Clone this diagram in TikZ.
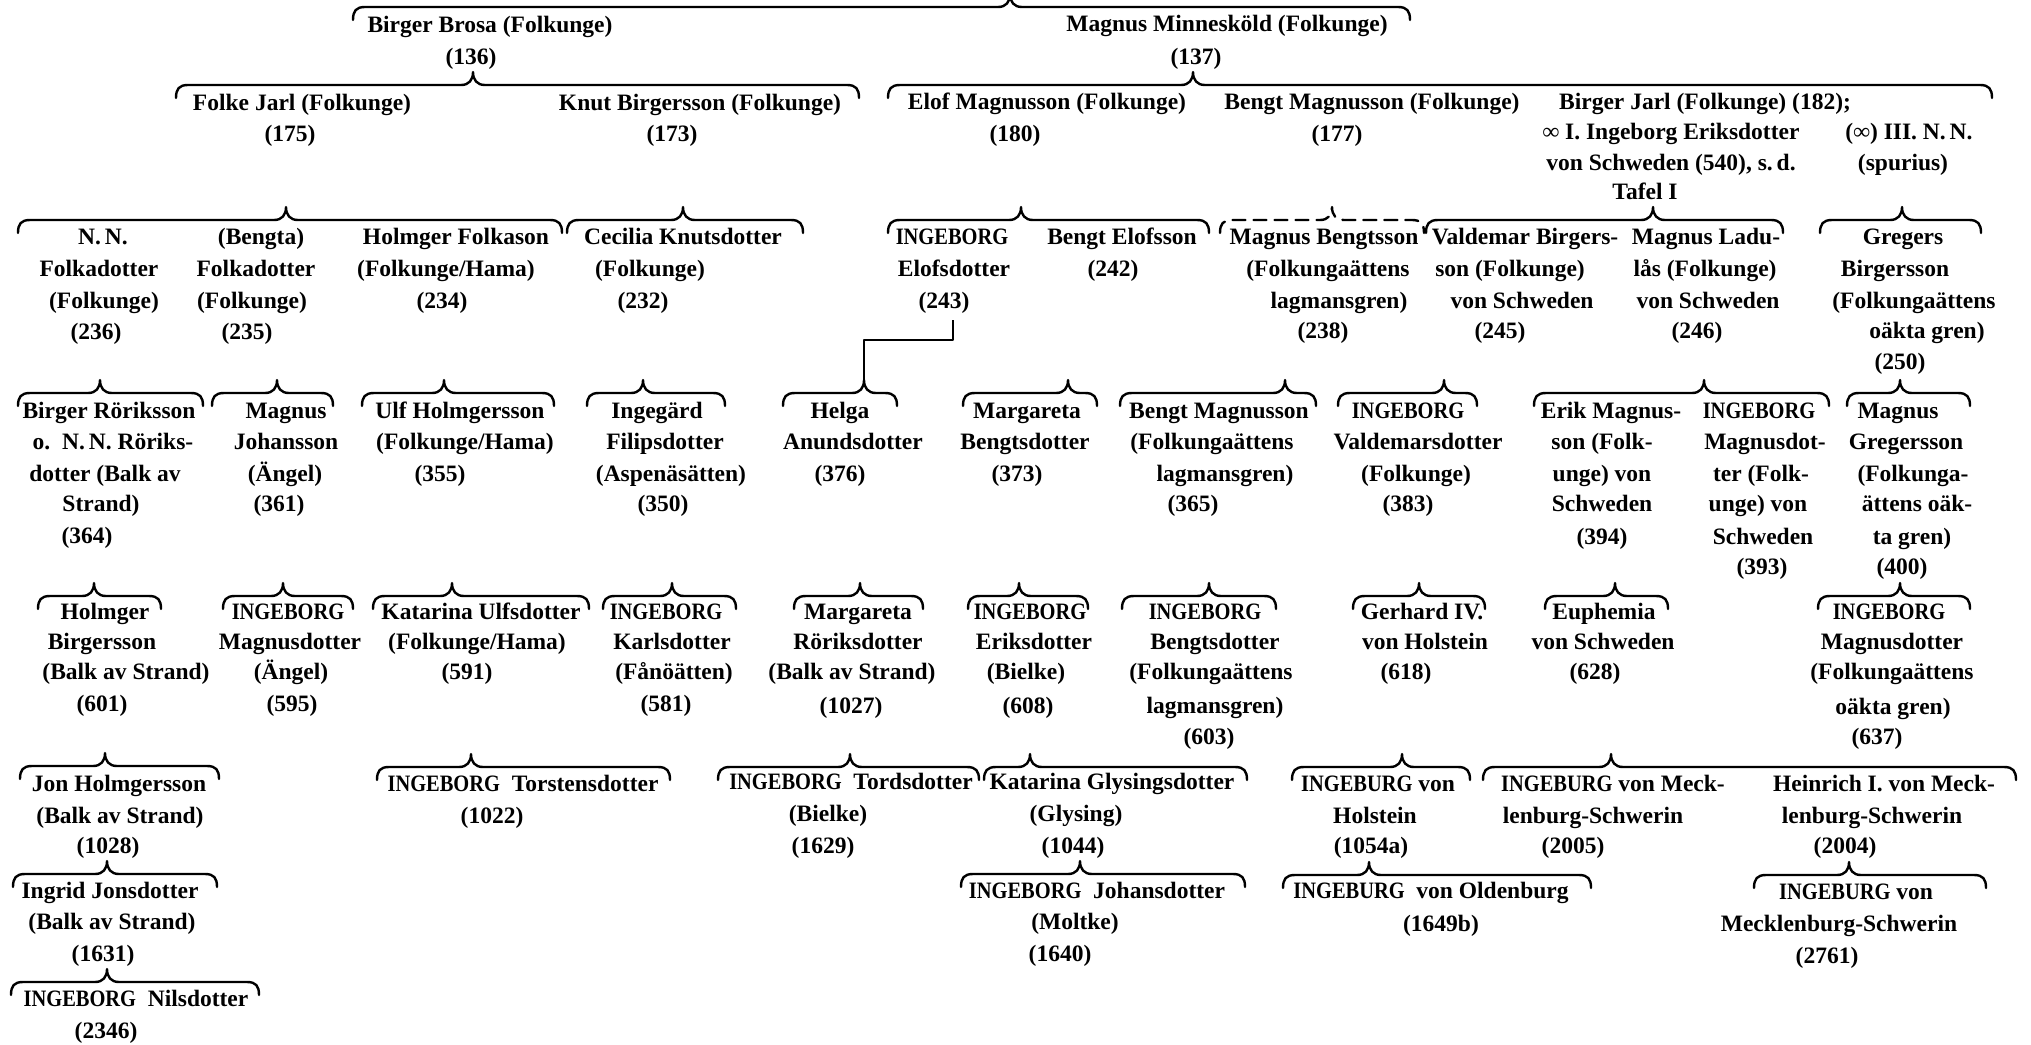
\documentclass[tikz,border=0pt]{standalone}
\usepackage{fontspec}
\usepackage{graphicx}
\setmainfont{Liberation Serif}
\newcommand\IB{\scalebox{0.87}[1]{INGEBORG}}
\newcommand\IU{\scalebox{0.87}[1]{INGEBURG}}
\newcommand\Tx[4]{\node[tx] (#1) at (#2,#3+6) {#4};}
\newcommand\Br[6][]{%
  \coordinate (#2l) at (#3,#6+13);
  \coordinate (#2r) at (#4,#6+13);
  \coordinate (#2t) at (#5,#6-13);
  \draw[brace,#1] (#2l) .. controls (#3,#6+4) and (#3+3,#6) .. (#3+12,#6)
     -- (#5-12,#6) .. controls (#5-4,#6) and (#5,#6-5) .. (#2t)
     .. controls (#5,#6-5) and (#5+4,#6) .. (#5+12,#6)
     -- (#4-12,#6) .. controls (#4-3,#6) and (#4,#6+4) .. (#2r);
}
\begin{document}
\begin{tikzpicture}[x=1pt,y=-1pt,
  tx/.style={anchor=base, inner sep=0pt, font=\fontsize{23.5}{31.7}\selectfont\bfseries},
  brace/.style={line width=2.4pt, line cap=round, line join=round},
  dashbrace/.style={dash pattern=on 13pt off 8pt}]
\useasboundingbox (0,0) rectangle (2031,1044);
\fill[white] (0,0) rectangle (2031,1044);
\clip (0,0) rectangle (2031,1044);

% ---------- braces ----------
\Br{B0}{353}{1410}{1010}{7}
\Br{B1}{176}{859}{473}{85}
\Br{B2}{888}{1992}{1193}{85}
\Br{B3}{18}{562}{286}{220}
\Br{B4}{567}{803}{683}{220}
\Br{B5}{888}{1209}{1021}{220}
\Br[dashbrace]{B6}{1220}{1424}{1332}{220}
\Br{B7}{1426}{1783}{1653}{220}
\Br{B8}{1820}{1981}{1902}{220}
\Br{B9}{18}{203}{100}{393}
\Br{B10}{212}{333}{277}{393}
\Br{B11}{362}{554}{444}{393}
\Br{B12}{587}{725}{643}{393}
\Br{B13}{783}{897}{864}{393}
\Br{B14}{963}{1097}{1068}{393}
\Br{B15}{1120}{1316}{1285}{393}
\Br{B16}{1338}{1477}{1444}{393}
\Br{B17}{1534}{1829}{1704}{393}
\Br{B18}{1847}{1970}{1900}{393}
\Br{B19}{38}{161}{94}{596}
\Br{B20}{223}{353}{283}{596}
\Br{B21}{373}{589}{452}{596}
\Br{B22}{603}{736}{672}{596}
\Br{B23}{794}{923}{860}{596}
\Br{B24}{968}{1088}{1019}{596}
\Br{B25}{1122}{1276}{1209}{596}
\Br{B26}{1353}{1485}{1419}{596}
\Br{B27}{1545}{1668}{1615}{596}
\Br{B28}{1818}{1970}{1900}{596}
\Br{B29}{20}{219}{105}{766}
\Br{B30}{377}{670}{471}{767}
\Br{B31}{718}{979}{850}{767}
\Br{B32}{984}{1247}{1030}{767}
\Br{B33}{1292}{1470}{1402}{767}
\Br{B34}{1483}{2016}{1611}{767}
\Br{B35}{13}{217}{107}{874}
\Br{B36}{961}{1245}{1080}{874}
\Br{B37}{1283}{1591}{1369}{875}
\Br{B38}{1754}{1986}{1849}{875}
\Br{B39}{11}{259}{107}{982}

% ---------- texts ----------
\Tx{a1}{490}{26}{Birger Brosa (Folkunge)}
\Tx{a1n}{471}{58}{(136)}
\Tx{a2}{1227}{25}{Magnus Minnesköld (Folkunge)}
\Tx{a2n}{1196}{58}{(137)}

\Tx{b1}{302}{104}{Folke Jarl (Folkunge)}
\Tx{b1n}{290}{135}{(175)}
\Tx{b2}{700}{104}{Knut Birgersson (Folkunge)}
\Tx{b2n}{672}{135}{(173)}
\Tx{b3}{1047}{103}{Elof Magnusson (Folkunge)}
\Tx{b3n}{1015}{135}{(180)}
\Tx{b4}{1372}{103}{Bengt Magnusson (Folkunge)}
\Tx{b4n}{1337}{135}{(177)}
\Tx{b5}{1705}{103}{Birger Jarl (Folkunge) (182);}
\Tx{b5a}{1671}{133}{∞ I. Ingeborg Eriksdotter}
\Tx{b5b}{1671}{164}{von Schweden (540), s.\,d.}
\Tx{b5c}{1645}{193}{Tafel I}
\Tx{b6}{1909}{133}{(∞) III.\ N.\,N.}
\Tx{b6a}{1903}{164}{(spurius)}

\Tx{c1}{103}{238}{N.\,N.}
\Tx{c1a}{99}{270}{Folkadotter}
\Tx{c1b}{104}{302}{(Folkunge)}
\Tx{c1c}{96}{333}{(236)}
\Tx{c2}{261}{238}{(Bengta)}
\Tx{c2a}{256}{270}{Folkadotter}
\Tx{c2b}{252}{302}{(Folkunge)}
\Tx{c2c}{247}{333}{(235)}
\Tx{c3}{456}{238}{Holmger Folkason}
\Tx{c3a}{446}{270}{(Folkunge/Hama)}
\Tx{c3b}{442}{302}{(234)}
\Tx{c4}{683}{238}{Cecilia Knutsdotter}
\Tx{c4a}{650}{270}{(Folkunge)}
\Tx{c4b}{643}{302}{(232)}
\Tx{c5}{952}{238}{\IB}
\Tx{c5a}{954}{270}{Elofsdotter}
\Tx{c5b}{944}{302}{(243)}
\Tx{c6}{1122}{238}{Bengt Elofsson}
\Tx{c6a}{1113}{270}{(242)}
\Tx{c7}{1324}{238}{Magnus Bengtsson}
\Tx{c7a}{1328}{270}{(Folkungaättens}
\Tx{c7b}{1339}{302}{lagmansgren)}
\Tx{c7c}{1323}{332}{(238)}
\Tx{c8}{1525}{238}{Valdemar Birgers-}
\Tx{c8a}{1510}{270}{son (Folkunge)}
\Tx{c8b}{1522}{302}{von Schweden}
\Tx{c8c}{1500}{332}{(245)}
\Tx{c9}{1706}{238}{Magnus Ladu-}
\Tx{c9a}{1705}{270}{lås (Folkunge)}
\Tx{c9b}{1708}{302}{von Schweden}
\Tx{c9c}{1697}{332}{(246)}
\Tx{c10}{1903}{238}{Gregers}
\Tx{c10a}{1895}{270}{Birgersson}
\Tx{c10b}{1914}{302}{(Folkungaättens}
\Tx{c10c}{1927}{332}{oäkta gren)}
\Tx{c10d}{1900}{363}{(250)}

\Tx{d1}{109}{412}{Birger Röriksson}
\Tx{d1a}{113}{443}{o.\ \ N.\,N. Röriks-}
\Tx{d1b}{105}{475}{dotter (Balk av}
\Tx{d1c}{101}{505}{Strand)}
\Tx{d1d}{87}{537}{(364)}
\Tx{d2}{286}{412}{Magnus}
\Tx{d2a}{286}{443}{Johansson}
\Tx{d2b}{285}{475}{(Ängel)}
\Tx{d2c}{279}{505}{(361)}
\Tx{d3}{460}{412}{Ulf Holmgersson}
\Tx{d3a}{465}{443}{(Folkunge/Hama)}
\Tx{d3b}{440}{475}{(355)}
\Tx{d4}{657}{412}{Ingegärd}
\Tx{d4a}{665}{443}{Filipsdotter}
\Tx{d4b}{671}{475}{(Aspenäsätten)}
\Tx{d4c}{663}{505}{(350)}
\Tx{d5}{840}{412}{Helga}
\Tx{d5a}{853}{443}{Anundsdotter}
\Tx{d5b}{840}{475}{(376)}
\Tx{d6}{1027}{412}{Margareta}
\Tx{d6a}{1025}{443}{Bengtsdotter}
\Tx{d6b}{1017}{475}{(373)}
\Tx{d7}{1219}{412}{Bengt Magnusson}
\Tx{d7a}{1212}{443}{(Folkungaättens}
\Tx{d7b}{1225}{475}{lagmansgren)}
\Tx{d7c}{1193}{505}{(365)}
\Tx{d8}{1408}{412}{\IB}
\Tx{d8a}{1418}{443}{Valdemarsdotter}
\Tx{d8b}{1416}{475}{(Folkunge)}
\Tx{d8c}{1408}{505}{(383)}
\Tx{d9}{1611}{412}{Erik Magnus-}
\Tx{d9a}{1602}{443}{son (Folk-}
\Tx{d9b}{1602}{475}{unge) von}
\Tx{d9c}{1602}{505}{Schweden}
\Tx{d9d}{1602}{538}{(394)}
\Tx{d10}{1759}{412}{\IB}
\Tx{d10a}{1765}{443}{Magnusdot-}
\Tx{d10b}{1761}{475}{ter (Folk-}
\Tx{d10c}{1758}{505}{unge) von}
\Tx{d10d}{1763}{538}{Schweden}
\Tx{d10e}{1762}{568}{(393)}
\Tx{d11}{1898}{412}{Magnus}
\Tx{d11a}{1906}{443}{Gregersson}
\Tx{d11b}{1913}{475}{(Folkunga-}
\Tx{d11c}{1917}{505}{ättens oäk-}
\Tx{d11d}{1912}{538}{ta gren)}
\Tx{d11e}{1902}{568}{(400)}

\Tx{e1}{105}{613}{Holmger}
\Tx{e1a}{102}{643}{Birgersson}
\Tx{e1b}{126}{673}{(Balk av Strand)}
\Tx{e1c}{102}{705}{(601)}
\Tx{e2}{288}{613}{\IB}
\Tx{e2a}{290}{643}{Magnusdotter}
\Tx{e2b}{291}{673}{(Ängel)}
\Tx{e2c}{292}{705}{(595)}
\Tx{e3}{481}{613}{Katarina Ulfsdotter}
\Tx{e3a}{477}{643}{(Folkunge/Hama)}
\Tx{e3b}{467}{673}{(591)}
\Tx{e4}{666}{613}{\IB}
\Tx{e4a}{672}{643}{Karlsdotter}
\Tx{e4b}{674}{673}{(Fånöätten)}
\Tx{e4c}{666}{705}{(581)}
\Tx{e5}{858}{613}{Margareta}
\Tx{e5a}{858}{643}{Röriksdotter}
\Tx{e5b}{852}{673}{(Balk av Strand)}
\Tx{e5c}{851}{707}{(1027)}
\Tx{e6}{1030}{613}{\IB}
\Tx{e6a}{1034}{643}{Eriksdotter}
\Tx{e6b}{1026}{673}{(Bielke)}
\Tx{e6c}{1028}{707}{(608)}
\Tx{e7}{1205}{613}{\IB}
\Tx{e7a}{1215}{643}{Bengtsdotter}
\Tx{e7b}{1211}{673}{(Folkungaättens}
\Tx{e7c}{1215}{707}{lagmansgren)}
\Tx{e7d}{1209}{738}{(603)}
\Tx{e8}{1422}{613}{Gerhard IV.}
\Tx{e8a}{1425}{643}{von Holstein}
\Tx{e8b}{1406}{673}{(618)}
\Tx{e9}{1604}{613}{Euphemia}
\Tx{e9a}{1603}{643}{von Schweden}
\Tx{e9b}{1595}{673}{(628)}
\Tx{e10}{1889}{613}{\IB}
\Tx{e10a}{1892}{643}{Magnusdotter}
\Tx{e10b}{1892}{673}{(Folkungaättens}
\Tx{e10c}{1893}{708}{oäkta gren)}
\Tx{e10d}{1877}{738}{(637)}

\Tx{f1}{119}{785}{Jon Holmgersson}
\Tx{f1a}{120}{817}{(Balk av Strand)}
\Tx{f1b}{108}{847}{(1028)}
\Tx{f2}{523}{785}{\IB\ \ Torstensdotter}
\Tx{f2a}{492}{817}{(1022)}
\Tx{f3}{851}{783}{\IB\ \ Tordsdotter}
\Tx{f3a}{828}{815}{(Bielke)}
\Tx{f3b}{823}{847}{(1629)}
\Tx{f4}{1112}{783}{Katarina Glysingsdotter}
\Tx{f4a}{1076}{815}{(Glysing)}
\Tx{f4b}{1073}{847}{(1044)}
\Tx{f5}{1378}{785}{\IU\ von}
\Tx{f5a}{1375}{817}{Holstein}
\Tx{f5b}{1371}{847}{(1054a)}
\Tx{f6}{1613}{785}{\IU\ von Meck-}
\Tx{f6a}{1593}{817}{lenburg-Schwerin}
\Tx{f6b}{1573}{847}{(2005)}
\Tx{f7}{1884}{785}{Heinrich I.\ von Meck-}
\Tx{f7a}{1872}{817}{lenburg-Schwerin}
\Tx{f7b}{1845}{847}{(2004)}

\Tx{g1}{110}{892}{Ingrid Jonsdotter}
\Tx{g1a}{112}{923}{(Balk av Strand)}
\Tx{g1b}{103}{955}{(1631)}
\Tx{g2}{1097}{892}{\IB\ \ Johansdotter}
\Tx{g2a}{1075}{923}{(Moltke)}
\Tx{g2b}{1060}{955}{(1640)}
\Tx{g3}{1431}{892}{\IU\ \ von Oldenburg}
\Tx{g3a}{1441}{925}{(1649b)}
\Tx{g4}{1856}{893}{\IU\ von}
\Tx{g4a}{1839}{925}{Mecklenburg-Schwerin}
\Tx{g4b}{1827}{957}{(2761)}

\Tx{h1}{136}{1000}{\IB\ \ Nilsdotter}
\Tx{h1a}{106}{1032}{(2346)}

% ---------- connector (243) -> Helga ----------
\coordinate (link243) at (953,320);
\draw[brace, line cap=butt] (link243) |- (864,340) -- (B13t);
\end{tikzpicture}
\end{document}
